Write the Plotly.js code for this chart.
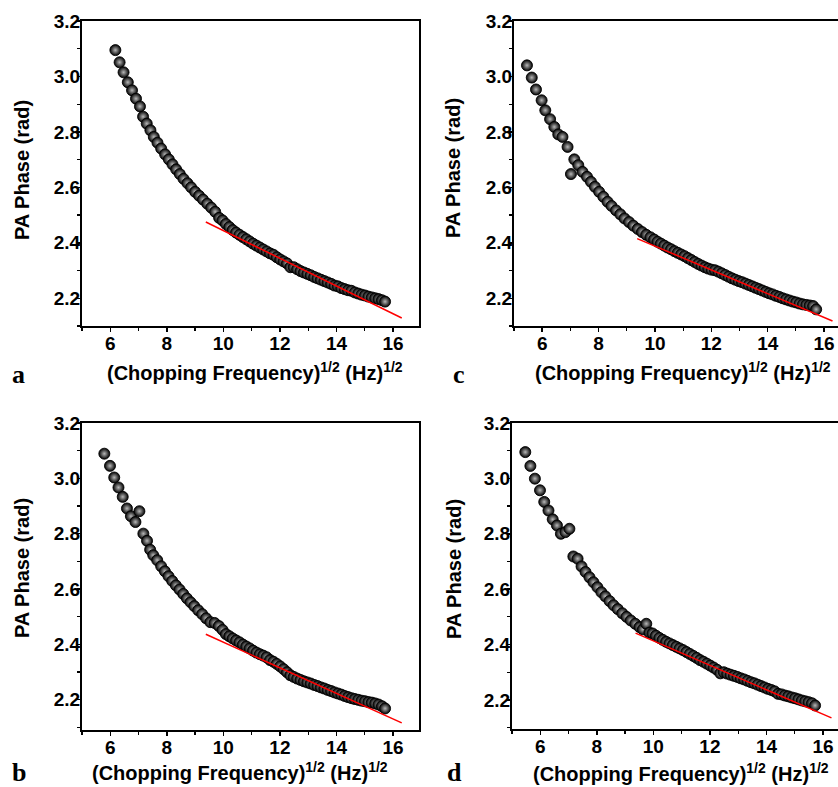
<!DOCTYPE html>
<html>
<head>
<meta charset="utf-8">
<script src="https://cdn.plot.ly/plotly-3.0.1.min.js"></script>
<style>
html,body{margin:0;padding:0;overflow:hidden;background:#fff;}
#wrap{width:838px;height:787px;overflow:hidden;position:relative;}
#plot{width:860px;height:787px;}
</style>
</head>
<body>
<div id="wrap"><div id="plot"></div></div>
<script>
// ---------- data ----------
// common dense tail of the sqrt-frequency grid
const xTail = [9.97,10.09,10.21,10.33,10.45,10.57,10.69,10.81,10.93,11.05,11.17,11.29,11.41,11.53,11.65,11.77,11.89,12.01,12.13,12.25,12.37,12.49,12.61,12.73,12.85,12.97,13.09,13.21,13.33,13.45,13.57,13.69,13.81,13.93,14.05,14.17,14.29,14.41,14.53,14.65,14.77,14.89,15.01,15.13,15.25,15.37,15.49,15.61,15.72];

// panel a
const xaHead = [6.18,6.33,6.47,6.62,6.77,6.91,7.05,7.16,7.29,7.42,7.54,7.67,7.80,7.94,8.07,8.20,8.33,8.46,8.59,8.73,8.86,9.00,9.14,9.28,9.43,9.57,9.71,9.85];
const yaHead = [3.095,3.051,3.015,2.979,2.950,2.920,2.892,2.855,2.830,2.806,2.782,2.761,2.740,2.719,2.701,2.683,2.665,2.648,2.631,2.615,2.600,2.584,2.570,2.556,2.541,2.527,2.512,2.490];
const yaTail = [2.481,2.468,2.457,2.446,2.437,2.429,2.421,2.413,2.405,2.397,2.390,2.383,2.376,2.369,2.362,2.357,2.348,2.340,2.333,2.326,2.312,2.312,2.305,2.298,2.293,2.288,2.283,2.277,2.272,2.267,2.262,2.257,2.252,2.246,2.243,2.237,2.233,2.229,2.227,2.221,2.217,2.213,2.210,2.206,2.203,2.200,2.197,2.193,2.188];

// panel b
const xbHead = [5.79,5.99,6.14,6.29,6.44,6.59,6.73,6.89,7.03,7.17,7.30,7.41,7.52,7.66,7.80,7.93,8.06,8.19,8.32,8.45,8.58,8.71,8.84,8.97,9.11,9.25,9.39,9.54,9.69,9.84];
const ybHead = [3.089,3.045,3.003,2.967,2.933,2.891,2.863,2.842,2.881,2.800,2.774,2.742,2.722,2.704,2.682,2.664,2.646,2.629,2.613,2.598,2.582,2.566,2.552,2.538,2.523,2.509,2.494,2.480,2.477,2.466];
const ybTail = [2.452,2.437,2.429,2.421,2.414,2.407,2.399,2.392,2.385,2.377,2.370,2.364,2.359,2.353,2.343,2.337,2.329,2.320,2.310,2.299,2.288,2.282,2.276,2.271,2.266,2.262,2.258,2.253,2.249,2.244,2.240,2.235,2.231,2.226,2.222,2.218,2.213,2.209,2.205,2.202,2.199,2.196,2.194,2.191,2.189,2.186,2.182,2.176,2.168];

// panel c
const xcHead = [5.46,5.63,5.78,5.98,6.11,6.28,6.43,6.57,6.72,6.90,7.02,7.14,7.28,7.43,7.59,7.73,7.87,8.02,8.17,8.32,8.46,8.62,8.77,8.92,9.08,9.23,9.39,9.54,9.69,9.84];
const ycHead = [3.040,2.996,2.953,2.914,2.878,2.846,2.818,2.791,2.782,2.746,2.648,2.701,2.680,2.656,2.638,2.620,2.602,2.584,2.566,2.548,2.533,2.517,2.503,2.488,2.475,2.462,2.450,2.439,2.429,2.420];
const ycTail = [2.412,2.404,2.397,2.390,2.383,2.377,2.370,2.364,2.358,2.352,2.345,2.338,2.331,2.324,2.318,2.312,2.307,2.303,2.301,2.296,2.290,2.284,2.278,2.272,2.267,2.262,2.258,2.253,2.248,2.243,2.238,2.233,2.228,2.223,2.218,2.214,2.209,2.205,2.200,2.196,2.192,2.188,2.185,2.181,2.178,2.176,2.174,2.172,2.160];

// panel d
const xdHead = [5.47,5.65,5.81,5.99,6.14,6.29,6.44,6.59,6.73,6.89,7.03,7.17,7.32,7.46,7.60,7.74,7.88,8.02,8.16,8.30,8.45,8.59,8.74,8.90,9.05,9.20,9.36,9.51,9.63,9.75,9.86];
const ydHead = [3.095,3.045,2.999,2.957,2.915,2.884,2.852,2.830,2.800,2.806,2.818,2.718,2.710,2.682,2.662,2.643,2.625,2.607,2.589,2.574,2.557,2.542,2.528,2.513,2.500,2.487,2.475,2.463,2.455,2.475,2.443];
const ydTail = [2.440,2.432,2.424,2.417,2.410,2.404,2.398,2.392,2.386,2.380,2.373,2.366,2.359,2.352,2.344,2.338,2.331,2.324,2.317,2.309,2.296,2.300,2.295,2.291,2.287,2.283,2.278,2.274,2.269,2.264,2.260,2.255,2.250,2.245,2.240,2.236,2.231,2.222,2.220,2.216,2.213,2.209,2.206,2.202,2.198,2.195,2.192,2.188,2.180];

// linear fits (red lines)
const fitXab = [9.38,16.31];
const fitXcd = [9.37,16.30];
const fitYa = [2.475,2.129];
const fitYb = [2.436,2.116];
const fitYc = [2.415,2.118];
const fitYd = [2.441,2.135];

// ticks and labels
const xTicks = [6,8,10,12,14,16];
const xTickText = ['6','8','10','12','14','16'];
const yTicks = [2.2,2.4,2.6,2.8,3.0,3.2];
const yTickText = ['2.2','2.4','2.6','2.8','3.0','3.2'];
const panelLabels = ['a','b','c','d'];
const xTitle = '(Chopping Frequency)<sup>1/2</sup> (Hz)<sup>1/2</sup>';
const yTitle = 'PA Phase (rad)';

// ---------- layout helpers ----------
const W = 860, H = 787;
const fx = p => p / W;
const fy = p => 1 - p / H;

const boldSans = {family:'Arial, "Liberation Sans", sans-serif', size:19, color:'#000', weight:'bold'};
const titleFont = {family:'Arial, "Liberation Sans", sans-serif', size:20, color:'#000', weight:'bold'};
const labelFont = {family:'"Times New Roman", "Liberation Serif", serif', size:26, color:'#000', weight:'bold'};

function mkX(dom, anchor){
  return {domain:dom, range:[5,16.92], anchor:anchor, tickmode:'array', tickvals:xTicks, ticktext:xTickText,
    ticks:'outside', ticklen:4, tickwidth:1.5, tickcolor:'#000', ticklabelstandoff:-5,
    minor:{tickmode:'linear', tick0:5, dtick:1, ticks:'outside', ticklen:3, tickwidth:1.2, tickcolor:'#000', showgrid:false},
    showline:true, linewidth:2, linecolor:'#000', mirror:true, showgrid:false, zeroline:false,
    tickfont:boldSans, fixedrange:true};
}
function mkY(dom, anchor, lo){
  return {domain:dom, range:[lo,3.2], anchor:anchor, tickmode:'array', tickvals:yTicks, ticktext:yTickText,
    ticks:'outside', ticklen:3, tickwidth:1.5, tickcolor:'#000', ticklabelstandoff:-7,
    minor:{tickmode:'linear', tick0:2.1, dtick:0.1, ticks:'outside', ticklen:3, tickwidth:1.2, tickcolor:'#000', showgrid:false},
    showline:true, linewidth:2, linecolor:'#000', mirror:true, showgrid:false, zeroline:false,
    tickfont:boldSans, fixedrange:true};
}

const marker = {size:11, color:'#000', line:{color:'#000', width:0.9}, gradient:{type:'radial', color:'#b8b8b8'}};

function pts(x, y, xa, ya){
  return {x:x, y:y, xaxis:xa, yaxis:ya, type:'scatter', mode:'markers', marker:marker, hoverinfo:'skip'};
}
function fit(x, y, xa, ya){
  return {x:x, y:y, xaxis:xa, yaxis:ya, type:'scatter', mode:'lines', line:{color:'#ff0000', width:1.5}, hoverinfo:'skip'};
}

const data = [
  pts(xaHead.concat(xTail), yaHead.concat(yaTail), 'x', 'y'),
  fit(fitXab, fitYa, 'x', 'y'),
  pts(xbHead.concat(xTail), ybHead.concat(ybTail), 'x2', 'y2'),
  fit(fitXab, fitYb, 'x2', 'y2'),
  pts(xcHead.concat(xTail), ycHead.concat(ycTail), 'x3', 'y3'),
  fit(fitXcd, fitYc, 'x3', 'y3'),
  pts(xdHead.concat(xTail), ydHead.concat(ydTail), 'x4', 'y4'),
  fit(fitXcd, fitYd, 'x4', 'y4')
];

// panel geometry in px: [left, right, top, bottom, yLow]
const geo = {
  a:[82,419,21,326,2.1],
  b:[82,419,423,730,2.09],
  c:[514,850,21,326,2.1],
  d:[512,849,423,729,2.095]
};

function ann(text, xp, yp, font, extra){
  return Object.assign({text:text, x:fx(xp), y:fy(yp), xref:'paper', yref:'paper', showarrow:false, font:font, xanchor:'center', yanchor:'middle'}, extra||{});
}

const annotations = [
  ann(panelLabels[0], 18, 374, labelFont),
  ann(panelLabels[1], 19, 772, labelFont),
  ann(panelLabels[2], 459, 374, labelFont),
  ann(panelLabels[3], 454, 772, labelFont),
  ann(xTitle, 255, 372, titleFont),
  ann(xTitle, 240, 771, titleFont),
  ann(xTitle, 683, 372, titleFont),
  ann(xTitle, 681, 772, titleFont),
  ann(yTitle, 22, 170, titleFont, {textangle:-90}),
  ann(yTitle, 22, 568, titleFont, {textangle:-90}),
  ann(yTitle, 453, 168, titleFont, {textangle:-90}),
  ann(yTitle, 454, 569, titleFont, {textangle:-90})
];

const g = geo;
const layout = {
  width:W, height:H, margin:{l:0,r:0,t:0,b:0}, showlegend:false,
  paper_bgcolor:'#fff', plot_bgcolor:'#fff',
  xaxis: mkX([fx(g.a[0]),fx(g.a[1])],'y'),
  yaxis: mkY([fy(g.a[3]),fy(g.a[2])],'x',g.a[4]),
  xaxis2: mkX([fx(g.b[0]),fx(g.b[1])],'y2'),
  yaxis2: mkY([fy(g.b[3]),fy(g.b[2])],'x2',g.b[4]),
  xaxis3: mkX([fx(g.c[0]),fx(g.c[1])],'y3'),
  yaxis3: mkY([fy(g.c[3]),fy(g.c[2])],'x3',g.c[4]),
  xaxis4: mkX([fx(g.d[0]),fx(g.d[1])],'y4'),
  yaxis4: mkY([fy(g.d[3]),fy(g.d[2])],'x4',g.d[4]),
  annotations:annotations
};

Plotly.newPlot('plot', data, layout, {staticPlot:true, displayModeBar:false});
</script>
</body>
</html>
